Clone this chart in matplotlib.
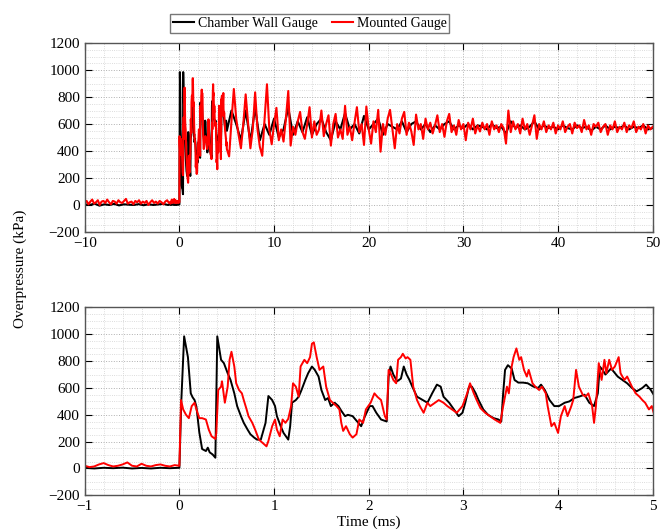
import numpy as np
import matplotlib
matplotlib.use("Agg")
import matplotlib.pyplot as plt
from matplotlib.ticker import MultipleLocator

plt.rcParams['font.family'] = ['Liberation Serif', 'DejaVu Serif']
plt.rcParams['font.size'] = 11

# ---- detail window (-1 .. 5 ms) ----
bot_t_black = [-1.0, -0.9, -0.8, -0.7, -0.6, -0.5, -0.4, -0.3, -0.2, -0.1, 0.0,
               0.02, 0.05, 0.09, 0.12, 0.14, 0.16, 0.18, 0.21, 0.24,
               0.28, 0.30, 0.32, 0.35, 0.38, 0.40, 0.44, 0.47, 0.51, 0.54,
               0.58, 0.61, 0.65, 0.68, 0.72, 0.75, 0.79, 0.82, 0.86, 0.88,
               0.91, 0.94, 0.98, 1.01, 1.03, 1.07, 1.10, 1.15, 1.17, 1.19,
               1.23, 1.26, 1.29, 1.33, 1.36, 1.40, 1.43, 1.47, 1.50, 1.54,
               1.57, 1.60, 1.64, 1.68, 1.71, 1.75, 1.78, 1.83, 1.89, 1.92,
               1.96, 2.01, 2.04, 2.08, 2.13, 2.19, 2.21, 2.23, 2.26, 2.30,
               2.34, 2.37, 2.40, 2.43, 2.46, 2.51, 2.57, 2.62, 2.67, 2.72,
               2.76, 2.79, 2.85, 2.90, 2.95, 2.99, 3.02, 3.06, 3.09, 3.13,
               3.16, 3.21, 3.26, 3.32, 3.37, 3.40, 3.42, 3.44, 3.47, 3.51,
               3.54, 3.58, 3.63, 3.68, 3.74, 3.79, 3.82, 3.86, 3.91, 3.96,
               4.01, 4.07, 4.12, 4.17, 4.22, 4.28, 4.33, 4.38, 4.42, 4.44,
               4.47, 4.50, 4.56, 4.59, 4.63, 4.68, 4.73, 4.78, 4.83, 4.89,
               4.93, 4.98, 5.01]
bot_p_black = [5, 0, 5, 2, 6, 0, 4, 0, 5, 2, 5,
               500, 985, 830, 560, 530, 510, 460, 270, 145,
               130, 155, 120, 105, 80, 985, 810, 785, 710, 660,
               560, 465, 390, 340, 290, 255, 230, 215, 215, 265,
               340, 540, 510, 465, 390, 315, 265, 215, 315, 490,
               510, 535, 585, 660, 710, 760, 735, 685, 585, 510,
               525, 465, 490, 465, 430, 390, 400, 390, 340, 315,
               390, 465, 465, 415, 365, 350, 685, 760, 700, 650,
               670, 760, 700, 660, 610, 535, 510, 490, 560, 625,
               610, 535, 490, 440, 390, 415, 490, 610, 610, 560,
               510, 440, 400, 375, 365, 350, 560, 735, 770, 745,
               660, 640, 640, 635, 610, 600, 625, 585, 510, 465,
               465, 490, 500, 525, 535, 550, 490, 465, 560, 760,
               735, 700, 745, 720, 685, 660, 635, 600, 575, 600,
               625, 585, 550]

bot_t_red = [-1.0, -0.95, -0.9, -0.85, -0.8, -0.75, -0.7, -0.65, -0.6, -0.55,
             -0.5, -0.45, -0.4, -0.35, -0.3, -0.25, -0.2, -0.15, -0.1, -0.05,
             0.0, 0.017, 0.04, 0.07, 0.10, 0.13, 0.16, 0.18, 0.21, 0.24,
             0.28, 0.31, 0.34, 0.38, 0.39, 0.41, 0.44, 0.45, 0.48, 0.51,
             0.53, 0.55, 0.58, 0.60, 0.63, 0.66, 0.68, 0.71, 0.73, 0.77,
             0.80, 0.84, 0.88, 0.92, 0.94, 0.98, 1.01, 1.03, 1.06, 1.09,
             1.12, 1.15, 1.18, 1.20, 1.23, 1.26, 1.28, 1.32, 1.35, 1.38,
             1.40, 1.42, 1.45, 1.48, 1.52, 1.55, 1.59, 1.62, 1.66, 1.69,
             1.71, 1.73, 1.76, 1.80, 1.83, 1.87, 1.90, 1.94, 1.97, 2.02,
             2.06, 2.09, 2.13, 2.17, 2.19, 2.21, 2.23, 2.26, 2.29, 2.31,
             2.34, 2.36, 2.39, 2.41, 2.44, 2.47, 2.51, 2.54, 2.58, 2.62,
             2.65, 2.70, 2.74, 2.79, 2.83, 2.88, 2.93, 2.99, 3.04, 3.07,
             3.11, 3.14, 3.18, 3.23, 3.28, 3.33, 3.39, 3.42, 3.46, 3.48,
             3.51, 3.53, 3.56, 3.59, 3.61, 3.64, 3.67, 3.69, 3.73, 3.76,
             3.80, 3.83, 3.87, 3.89, 3.93, 3.96, 4.00, 4.03, 4.07, 4.10,
             4.14, 4.16, 4.19, 4.22, 4.26, 4.29, 4.32, 4.36, 4.38, 4.40,
             4.43, 4.46, 4.49, 4.51, 4.54, 4.57, 4.60, 4.64, 4.66, 4.70,
             4.73, 4.78, 4.82, 4.86, 4.89, 4.92, 4.96, 4.99, 5.01]
bot_p_red = [20, 10, 15, 30, 40, 25, 15, 20, 30, 45,
             20, 15, 35, 20, 15, 25, 30, 20, 15, 25,
             20, 510, 440, 400, 375, 465, 490, 440, 375, 375,
             365, 290, 240, 220, 265, 585, 610, 650, 490, 610,
             810, 870, 760, 635, 585, 560, 510, 440, 390, 340,
             290, 215, 190, 165, 205, 315, 365, 290, 240, 365,
             340, 370, 465, 635, 610, 535, 760, 810, 785, 830,
             930, 940, 830, 735, 760, 610, 510, 490, 465, 440,
             340, 280, 315, 255, 230, 255, 365, 340, 440, 490,
             560, 535, 510, 390, 365, 735, 710, 660, 635, 810,
             830, 855, 820, 830, 810, 610, 510, 465, 415, 490,
             465, 490, 510, 490, 465, 440, 415, 465, 560, 635,
             560, 510, 450, 415, 390, 365, 340, 465, 610, 560,
             760, 830, 895, 810, 830, 735, 685, 735, 635, 610,
             585, 610, 560, 465, 315, 340, 265, 390, 465, 390,
             465, 510, 735, 610, 550, 535, 560, 465, 340, 465,
             785, 660, 810, 710, 810, 735, 760, 830, 710, 660,
             685, 610, 560, 535, 510, 490, 440, 465, 415]

# ---- long record: before -1 ms and after 5 ms (upper panel) ----
red_pre = [15, 30, 5, 25, 40, 10, 20, 35, 0, 25,
           30, 15, 40, 20, 5, 30, 25, 10, 35, 20,
           15, 30, 45, 10, 20, 25, 5, 30, 20, 35,
           10, 25, 15, 30, 0, 20, 35, 15, 25, 10,
           30, 20, 5, 25, 35, 15]
black_pre = [5, 0, 10, -5, 5, 0, 8, -3, 5, 2, 0, 6, -2, 5, 0, 4, 8, 0]

red_post = [360, 620, 860, 640, 520, 420, 600, 820, 610, 420,
            560, 835, 560, 430, 365, 640, 895, 560, 450, 600,
            720, 480, 560, 470, 640, 845, 440, 580, 520, 620,
            690, 540, 490, 600, 725, 500, 620, 520, 560, 700,
            510, 600, 665, 440, 600, 675, 500, 560, 490, 735,
            520, 580, 480, 610, 725, 540, 600, 445, 730, 560,
            455, 620, 540, 705, 395, 600, 520, 640, 705, 560,
            420, 600, 530, 640, 690, 520, 610, 545, 445, 670,
            560, 600, 490, 640, 560, 610, 530, 590, 665, 540,
            600, 505, 620, 675, 540, 590, 520, 630, 560, 600,
            480, 610, 560, 640, 530, 590, 545, 610, 560, 600,
            520, 620, 560, 590, 540, 600, 570, 455, 700, 540,
            620, 560, 600, 530, 640, 560, 600, 520, 590, 665,
            490, 600, 560, 620, 540, 590, 560, 610, 530, 590,
            560, 620, 540, 580, 600, 530, 610, 570, 590, 540,
            630, 560, 590, 520, 600, 580, 610, 540, 580, 600,
            520, 590, 560, 620, 540, 580, 560, 610, 540, 590,
            570, 620, 540, 580, 560, 600, 530, 590, 560, 580]
black_post = [700, 600, 480, 700, 470, 720, 480, 600, 520, 640,
              500, 560, 720, 520, 620, 540, 650, 520, 600, 640,
              540, 480, 620, 560, 680, 560, 600, 530, 660, 560,
              600, 640, 520, 600, 580, 560, 620, 540, 600, 620,
              560, 600, 540, 590, 560, 600, 620, 560, 590, 570,
              600, 560, 590, 580, 560, 600, 570, 580, 530, 620,
              570, 590, 560, 580, 620, 560, 590, 570, 580, 560,
              590, 570, 560, 590, 570, 580, 550, 580, 560, 590,
              560, 580, 570, 590, 560, 580, 570, 590, 560, 570]

top_t_black = np.concatenate([np.linspace(-10, -1.2, len(black_pre)), bot_t_black,
                              np.linspace(5.5, 50, len(black_post))])
top_p_black = np.concatenate([black_pre, bot_p_black, black_post])
top_t_red = np.concatenate([np.linspace(-10, -1.1, len(red_pre)), bot_t_red,
                            np.linspace(5.25, 50, len(red_post))])
top_p_red = np.concatenate([red_pre, bot_p_red, red_post])

fig = plt.figure(figsize=(6.62, 5.32), dpi=100)
ax1 = fig.add_axes([0.128, 0.564, 0.858, 0.355])
ax2 = fig.add_axes([0.128, 0.069, 0.858, 0.353])

ax1.plot(top_t_black, top_p_black, color='black', lw=1.5, label='Chamber Wall Gauge')
ax1.plot(top_t_red, top_p_red, color='red', lw=1.5, label='Mounted Gauge')
ax2.plot(bot_t_black, bot_p_black, color='black', lw=1.4)
ax2.plot(bot_t_red, bot_p_red, color='red', lw=1.4)

ax1.set_xlim(-10, 50)
ax1.xaxis.set_major_locator(MultipleLocator(10))
ax1.xaxis.set_minor_locator(MultipleLocator(2))
ax2.set_xlim(-1, 5)
ax2.xaxis.set_major_locator(MultipleLocator(1))
ax2.xaxis.set_minor_locator(MultipleLocator(0.2))

for ax in (ax1, ax2):
    ax.set_ylim(-200, 1200)
    ax.yaxis.set_major_locator(MultipleLocator(200))
    ax.yaxis.set_minor_locator(MultipleLocator(50))
    ax.grid(which='major', ls=':', color='#b0b0b0', lw=0.7)
    ax.grid(which='minor', ls=':', color='#d0d0d0', lw=0.6)
    ax.set_axisbelow(True)
    ax.tick_params(which='major', direction='in', top=True, right=True, length=5, labelsize=11)
    ax.tick_params(which='minor', length=0)
    for s in ax.spines.values():
        s.set_color('#555555')
        s.set_linewidth(1.0)

ax2.set_xlabel('Time (ms)', labelpad=2)
fig.text(0.03, 0.494, 'Overpressure (kPa)', rotation=90, ha='center', va='center', fontsize=11)

fig.legend(loc='center', bbox_to_anchor=(0.468, 0.956), ncol=2, frameon=True,
           fancybox=False, edgecolor='#555555', handlelength=1.5, handletextpad=0.3,
           columnspacing=1.0, borderpad=0.2, fontsize=10)

fig.savefig('out.png', dpi=100)
